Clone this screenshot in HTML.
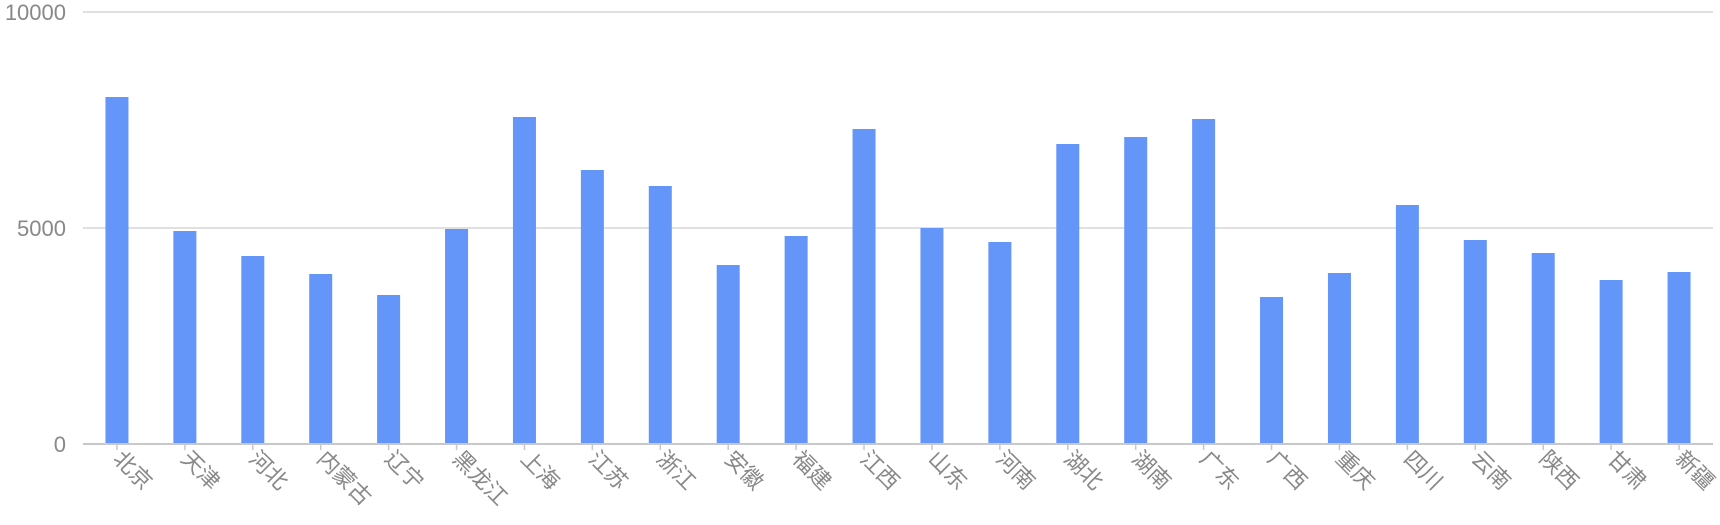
<!DOCTYPE html>
<html><head><meta charset="utf-8"><style>html,body{margin:0;padding:0;background:#fff}</style></head>
<body>
<svg width="1720" height="520" xmlns="http://www.w3.org/2000/svg" font-family="Liberation Sans, Noto Sans CJK SC, sans-serif">
<g stroke="#d6d6d6" stroke-width="1.5">
<line x1="83" y1="12" x2="1713" y2="12"/>
<line x1="83" y1="228" x2="1713" y2="228"/>
</g>
<g fill="#888" font-size="22" text-anchor="end">
<text x="66" y="20">10000</text>
<text x="66" y="236">5000</text>
<text x="66" y="452">0</text>
</g>
<g id="bars" fill="#6495f9"></g>
<line x1="83" y1="444" x2="1713" y2="444" stroke="#c8c8c8" stroke-width="2"/>
<g id="ticks" stroke="#c8c8c8" stroke-width="1.5"></g>
<g id="labels" fill="#888" font-size="22"></g>
</svg>
<script>
var names=["北京","天津","河北","内蒙古","辽宁","黑龙江","上海","江苏","浙江","安徽","福建","江西","山东","河南","湖北","湖南","广东","广西","重庆","四川","云南","陕西","甘肃","新疆"];
var tops=[97,231,256,274,295,229,117,170,186,265,236,129,228,242,144,137,119,297,273,205,240,253,280,272];
var ns="http://www.w3.org/2000/svg",band=1630/24;
var b=document.getElementById("bars"),t=document.getElementById("ticks"),l=document.getElementById("labels");
for(var i=0;i<24;i++){var c=83+band*(i+0.5);
var r=document.createElementNS(ns,"rect");r.setAttribute("x",c-11.5);r.setAttribute("y",tops[i]);r.setAttribute("width",23);r.setAttribute("height",444-tops[i]);b.appendChild(r);
var k=document.createElementNS(ns,"line");k.setAttribute("x1",c);k.setAttribute("x2",c);k.setAttribute("y1",444);k.setAttribute("y2",450);t.appendChild(k);
var tx=document.createElementNS(ns,"text");tx.setAttribute("transform","translate("+(c-5)+",460) rotate(45)");tx.textContent=names[i];l.appendChild(tx);}
</script>
</body></html>
